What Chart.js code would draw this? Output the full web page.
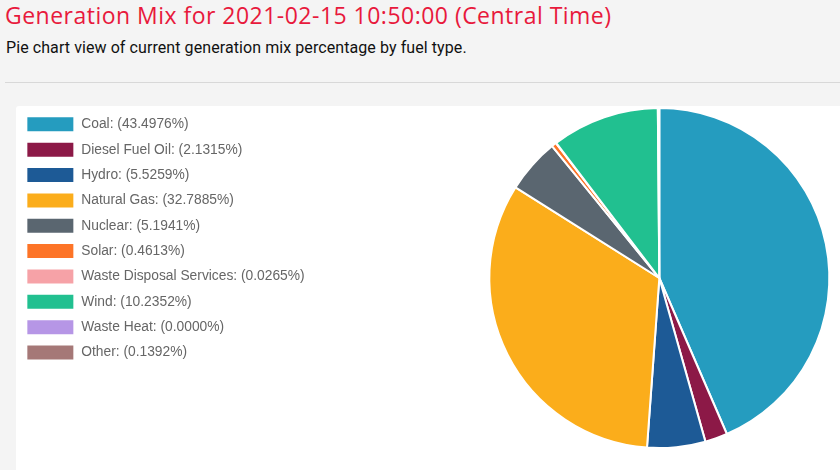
<!DOCTYPE html>
<html>
<head>
<meta charset="utf-8">
<script src="https://cdn.jsdelivr.net/npm/chart.js@4.4.1/dist/chart.umd.min.js"></script>
<style>
  html, body { margin: 0; padding: 0; background: #f4f4f4; width: 840px; height: 470px; overflow: hidden; position: relative; }
  h1 { position: absolute; left: 5px; top: 0px; margin: 0; font-family: "Open Sans", sans-serif; font-weight: 400; font-size: 23px; letter-spacing: 0.48px; line-height: 30px; color: #e8193c; white-space: nowrap; }
  p.sub { position: absolute; left: 6px; top: 38px; margin: 0; font-family: Roboto, sans-serif; font-size: 16px; letter-spacing: 0.08px; line-height: 20px; color: #111; white-space: nowrap; }
  .rule { position: absolute; left: 5px; right: 0; top: 82px; height: 0; border-top: 1px solid #d8d8d8; }
  .card { position: absolute; left: 16px; top: 106px; width: 1000px; height: 420px; background: #fff; border-radius: 3px; }
  canvas { position: absolute; left: 1px; top: -1px; }
</style>
</head>
<body>
<h1>Generation Mix for 2021-02-15 10:50:00 (Central Time)</h1>
<p class="sub">Pie chart view of current generation mix percentage by fuel type.</p>
<div class="rule"></div>
<div class="card"><canvas id="c" width="987" height="346"></canvas></div>
<script>
const fuelTypes = ["Coal", "Diesel Fuel Oil", "Hydro", "Natural Gas", "Nuclear", "Solar", "Waste Disposal Services", "Wind", "Waste Heat", "Other"];
const percentages = [43.4976, 2.1315, 5.5259, 32.7885, 5.1941, 0.4613, 0.0265, 10.2352, 0.0000, 0.1392];
const fuelColors = ["#259cbf", "#8c1947", "#1d5a96", "#fbad1b", "#5a6670", "#fd7427", "#f6a2a7", "#21c090", "#b696e6", "#a57877"];

const labels = fuelTypes.map((f, i) => f + ": (" + percentages[i].toFixed(4) + "%)");

new Chart(document.getElementById('c'), {
  type: 'pie',
  data: {
    labels: labels,
    datasets: [{
      data: percentages,
      backgroundColor: fuelColors,
      borderColor: '#ffffff',
      borderWidth: 2,
      hoverOffset: 0
    }]
  },
  options: {
    responsive: false,
    animation: false,
    layout: { padding: { top: 2, bottom: 2, left: 0, right: 0 } },
    plugins: {
      tooltip: { enabled: false },
      legend: {
        position: 'left',
        align: 'start',
        labels: {
          boxWidth: 48,
          boxHeight: 16,
          padding: 9.35,
          color: '#666',
          font: { family: 'Liberation Sans, Arial, sans-serif', size: 13.8 }
        }
      }
    }
  }
});
</script>
</body>
</html>
